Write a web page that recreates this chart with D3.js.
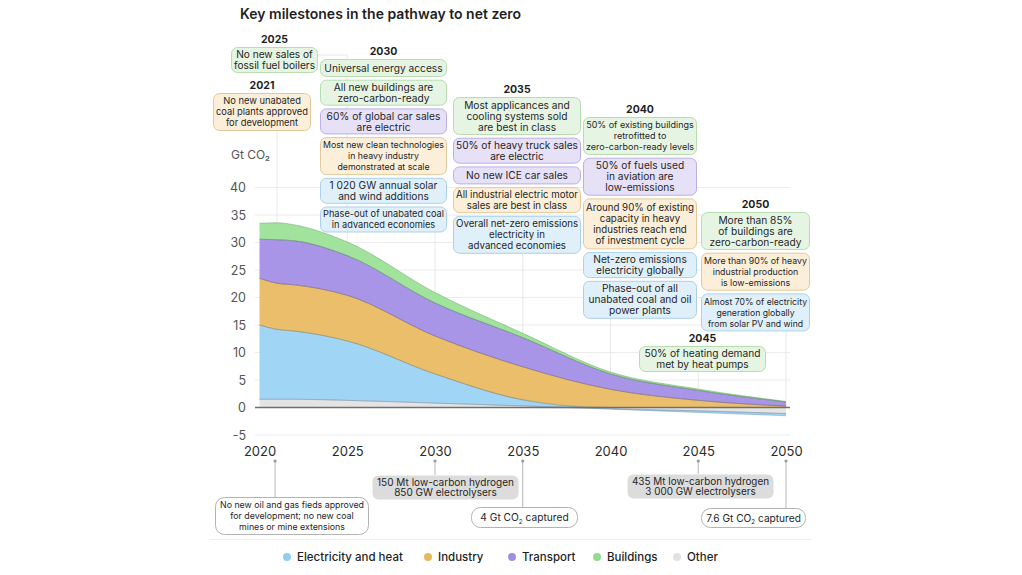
<!DOCTYPE html>
<html><head><meta charset="utf-8">
<script src="https://cdn.jsdelivr.net/npm/d3@7"></script>
<style>
html,body{margin:0;padding:0;background:#fff;}
svg{display:block;font-family:Inter,"Noto Sans",sans-serif;}
</style></head><body>
<svg id="chart" width="1022" height="575"></svg>
<script>
// ---------------- data ----------------
const years       = [2020, 2021, 2022, 2025, 2030, 2035, 2040, 2045, 2050];
const electricity = [13.5, 12.7, 12.4, 10.8, 5.3, 1.1, -0.1, -0.3, -0.4];
const industry    = [8.5, 8.4, 8.4, 8.3, 6.9, 6.0, 3.3, 1.3, 0.25];
const transport   = [7.1, 7.9, 8.0, 7.2, 6.0, 5.3, 2.8, 1.8, 0.75];
const buildings   = [2.9, 3.1, 2.9, 2.5, 1.9, 0.8, 0.35, 0.25, 0.1];
const other       = [1.5, 1.5, 1.5, 1.3, 0.8, 0.3, -0.2, -0.6, -1.1];

const seriesKeys   = ["other", "electricity", "industry", "transport", "buildings"];
const legendKeys   = ["electricity", "industry", "transport", "buildings", "other"];
const legendLabels = ["Electricity and heat", "Industry", "Transport", "Buildings", "Other"];

const yTickValues = [-5, 0, 5, 10, 15, 20, 25, 30, 35, 40];
const xTickValues = [2020, 2025, 2030, 2035, 2040, 2045, 2050];

const titleText = "Key milestones in the pathway to net zero";
const yAxisTitle = "Gt CO₂";

// milestones above the chart (sector decides colour)
const milestoneYears = [2021, 2025, 2030, 2035, 2040, 2045, 2050];
const milestoneSectors = [
  ["industry"],
  ["buildings"],
  ["buildings", "buildings", "transport", "industry", "electricity", "electricity"],
  ["buildings", "transport", "transport", "industry", "electricity"],
  ["buildings", "transport", "industry", "electricity", "electricity"],
  ["buildings"],
  ["buildings", "industry", "electricity"]
];
const milestoneTexts = [
  [["No new unabated", "coal plants approved", "for development"]],
  [["No new sales of", "fossil fuel boilers"]],
  [["Universal energy access"],
   ["All new buildings are", "zero-carbon-ready"],
   ["60% of global car sales", "are electric"],
   ["Most new clean technologies", "in heavy industry", "demonstrated at scale"],
   ["1 020 GW annual solar", "and wind additions"],
   ["Phase-out of unabated coal", "in advanced economies"]],
  [["Most applicances and", "cooling systems sold", "are best in class"],
   ["50% of heavy truck sales", "are electric"],
   ["No new ICE car sales"],
   ["All industrial electric motor", "sales are best in class"],
   ["Overall net-zero emissions", "electricity in", "advanced economies"]],
  [["50% of existing buildings", "retrofitted to", "zero-carbon-ready levels"],
   ["50% of fuels used", "in aviation are", "low-emissions"],
   ["Around 90% of existing", "capacity in heavy", "industries reach end", "of investment cycle"],
   ["Net-zero emissions", "electricity globally"],
   ["Phase-out of all", "unabated coal and oil", "power plants"]],
  [["50% of heating demand", "met by heat pumps"]],
  [["More than 85%", "of buildings are", "zero-carbon-ready"],
   ["More than 90% of heavy", "industrial production", "is low-emissions"],
   ["Almost 70% of electricity", "generation globally", "from solar PV and wind"]]
];

// milestones below the axis
const bottomYears = [2021, 2030, 2035, 2045, 2050];
const bottomKinds = ["policy", "hydrogen", "ccus", "hydrogen", "ccus"];
const bottomTexts = [
  ["No new oil and gas fieds approved", "for development; no new coal", "mines or mine extensions"],
  ["150 Mt low-carbon hydrogen", "850 GW electrolysers"],
  ["4 Gt CO₂ captured"],
  ["435 Mt low-carbon hydrogen", "3 000 GW electrolysers"],
  ["7.6 Gt CO₂ captured"]
];

// ---------------- styles & layout ----------------
const areaFill   = {electricity:"#a0d5f6", industry:"#ebbe6c", transport:"#a995e7", buildings:"#a1e39c", other:"#e4e4e4"};
const areaStroke = {electricity:"#6e96b0", industry:"#9a7d45", transport:"#66599c", buildings:"#5f9a5b", other:"#9a9a9a"};
const dotFill    = {electricity:"#8fcdf3", industry:"#e8b85f", transport:"#a18ee3", buildings:"#91dc8d", other:"#e2e2e2"};
const boxFill    = {buildings:"#e6f5e3", industry:"#fbefda", transport:"#e7e1f8", electricity:"#e0f0fb"};
const boxStroke  = {buildings:"#b6dcb0", industry:"#e3c999", transport:"#bbafe4", electricity:"#abd1ea"};

// column layout: left x, width, top of first box
const columnLayout = {
  2021: {x:213, w:98,  top:93},
  2025: {x:231, w:87,  top:47},
  2030: {x:320, w:127, top:59},
  2035: {x:453, w:128, top:97},
  2040: {x:583, w:114, top:117},
  2045: {x:639, w:127, top:346},
  2050: {x:701, w:109, top:212}
};
const bottomLayout = [
  {x:215, w:154, top:497, h:38},
  {x:372, w:147, top:475, h:25},
  {x:471, w:107, top:507, h:21},
  {x:627, w:147, top:474, h:25},
  {x:701, w:105, top:508, h:20}
];
const boxHeights = [0, 18, 26, 38, 51];
const boxGap = 2.7;

const svg = d3.select("#chart");

const x = d3.scaleLinear().domain([2020, 2050]).range([259.5, 786]);
const y = d3.scaleLinear().domain([0, 40]).range([407.5, 187.5]);
const gridX0 = 255, gridX1 = 790;

// ---------------- title ----------------
svg.append("text").attr("x", 240).attr("y", 19)
  .attr("font-size", 14).attr("font-weight", 600).attr("fill", "#1f1f1f")
  .text(titleText);

// ---------------- gridlines & y axis ----------------
const gridG = svg.append("g");
gridG.selectAll("line.h").data(yTickValues.filter(v => v !== 0)).join("line")
  .attr("x1", gridX0).attr("x2", gridX1)
  .attr("y1", d => y(d)).attr("y2", d => y(d))
  .attr("stroke", "#ececec").attr("stroke-width", 1);

function colBottom(yr) {
  const i = milestoneYears.indexOf(yr);
  const L = columnLayout[yr];
  let t = L.top;
  milestoneTexts[i].forEach(lines => { t += boxHeights[lines.length] + boxGap; });
  return t - boxGap;
}
milestoneYears.forEach(yr => {
  const xx = x(yr);
  if (yr === 2025) {
    const L = columnLayout[yr];
    gridG.append("path")
      .attr("d", `M${L.x + L.w},55H${xx}V${y(0)}`)
      .attr("fill", "none").attr("stroke", "#e8e8e8");
  } else {
    gridG.append("line").attr("x1", xx).attr("x2", xx)
      .attr("y1", colBottom(yr)).attr("y2", y(0))
      .attr("stroke", "#e8e8e8");
  }
});

const yAxis = d3.axisLeft(y).tickValues(yTickValues).tickSize(0).tickPadding(0).tickFormat(d => String(d));
const yAxisG = svg.append("g").attr("transform", `translate(246,0)`).call(yAxis);
yAxisG.select(".domain").remove();
yAxisG.selectAll("text").attr("font-size", 12.5).attr("fill", "#555").attr("font-family", "Inter,sans-serif");

svg.append("text").attr("x", 231).attr("y", 159)
  .attr("font-size", 12).attr("fill", "#555")
  .text(yAxisTitle);

// ---------------- stacked areas ----------------
const table = years.map((yr, i) => ({
  year: yr, electricity: electricity[i], industry: industry[i],
  transport: transport[i], buildings: buildings[i], other: other[i]
}));
const stack = d3.stack().keys(seriesKeys).order(d3.stackOrderNone).offset(d3.stackOffsetDiverging);
const stacked = stack(table);

const area = d3.area().curve(d3.curveMonotoneX)
  .x(d => x(d.data.year)).y0(d => y(d[0])).y1(d => y(d[1]));
const topLine = d3.line().curve(d3.curveMonotoneX)
  .x(d => x(d.data.year)).y(d => y(d[1]));
const botLine = d3.line().curve(d3.curveMonotoneX)
  .x(d => x(d.data.year)).y(d => y(d[0]));

const areaG = svg.append("g");
areaG.selectAll("path.area").data(stacked).join("path")
  .attr("class", "area")
  .attr("d", area)
  .attr("fill", s => areaFill[s.key]);
areaG.selectAll("path.edge").data(stacked).join("path")
  .attr("class", "edge")
  .attr("d", s => topLine(s) + botLine(s))
  .attr("fill", "none")
  .attr("stroke", s => areaStroke[s.key])
  .attr("stroke-width", 0.6)
  .attr("stroke-opacity", 0.75);

// zero line
svg.append("line").attr("x1", gridX0).attr("x2", gridX1)
  .attr("y1", y(0)).attr("y2", y(0))
  .attr("stroke", "#6f6f6f").attr("stroke-width", 1.3);

// ---------------- x axis ----------------
const xAxis = d3.axisBottom(x).tickValues(xTickValues).tickSize(0).tickPadding(0).tickFormat(d => String(d));
const xAxisG = svg.append("g").attr("transform", `translate(0,447)`).call(xAxis);
xAxisG.select(".domain").remove();
xAxisG.selectAll("text").attr("font-size", 13).attr("fill", "#2b2b2b").attr("font-family", "Inter,sans-serif");

// ---------------- boxes helper ----------------
const measurer = svg.append("text").attr("visibility", "hidden");
function fitSize(lines, base, maxW, weight) {
  measurer.attr("font-size", base).attr("font-weight", weight || 400);
  let m = 0;
  lines.forEach(l => { measurer.text(l); m = Math.max(m, measurer.node().getComputedTextLength()); });
  return m > maxW ? base * maxW / m : base;
}
function addText(g, cx, cy, lines, fs, lh, color) {
  const t = g.append("text").attr("text-anchor", "middle").attr("font-size", fs).attr("fill", color);
  lines.forEach((ln, i) => {
    const ty = cy + (i - (lines.length - 1) / 2) * lh + fs * 0.36;
    const ts = t.append("tspan").attr("x", cx).attr("y", ty);
    if (ln.includes("₂")) {
      const parts = ln.split("₂");
      ts.append("tspan").text(parts[0]);
      ts.append("tspan").attr("font-size", fs * 0.62).attr("dy", fs * 0.28).text("2");
      ts.append("tspan").attr("dy", -fs * 0.28).text(parts[1]);
    } else {
      ts.text(ln);
    }
  });
  return t;
}

// ---------------- milestone boxes above ----------------
const boxG = svg.append("g");
milestoneYears.forEach((yr, ci) => {
  const L = columnLayout[yr];
  boxG.append("text").attr("x", L.x + L.w / 2).attr("y", L.top - 4)
    .attr("text-anchor", "middle").attr("font-size", 10.5).attr("font-weight", 700)
    .attr("fill", "#1f1f1f").text(yr);
  let top = L.top;
  milestoneTexts[ci].forEach((lines, bi) => {
    const sec = milestoneSectors[ci][bi];
    const h = boxHeights[lines.length];
    boxG.append("rect").attr("x", L.x + 0.5).attr("y", top + 0.5)
      .attr("width", L.w - 1).attr("height", h - 1).attr("rx", 6)
      .attr("fill", boxFill[sec]).attr("stroke", boxStroke[sec]).attr("stroke-width", 1);
    const fs = fitSize(lines, 10.2, L.w - 6);
    addText(boxG, L.x + L.w / 2, top + h / 2, lines, fs, 11, "#262626");
    top += h + boxGap;
  });
});

// ---------------- milestones below axis ----------------
const botG = svg.append("g");
bottomYears.forEach((yr, i) => {
  const L = bottomLayout[i];
  const xx = x(yr) + (yr === 2021 ? -2 : 0);
  botG.append("line").attr("x1", xx).attr("x2", xx).attr("y1", 461).attr("y2", L.top)
    .attr("stroke", "#b5b5b5").attr("stroke-width", 1);
  botG.append("circle").attr("cx", xx).attr("cy", 461).attr("r", 1.6).attr("fill", "#9a9a9a");
  const kind = bottomKinds[i];
  botG.append("rect").attr("x", L.x + 0.5).attr("y", L.top + 0.5)
    .attr("width", L.w - 1).attr("height", L.h - 1).attr("rx", kind === "hydrogen" ? 6 : 9)
    .attr("fill", kind === "hydrogen" ? "#dcdcdc" : "#ffffff")
    .attr("stroke", kind === "hydrogen" ? "none" : "#b3b3b3").attr("stroke-width", 1);
  const lines = bottomTexts[i];
  const fs = fitSize(lines, kind === "policy" ? 9.6 : 10.2, L.w - 10);
  addText(botG, L.x + L.w / 2, L.top + L.h / 2, lines, fs, kind === "policy" ? 11 : 10.5, "#262626");
});

// ---------------- legend ----------------
svg.append("line").attr("x1", 210).attr("x2", 812).attr("y1", 539.5).attr("y2", 539.5)
  .attr("stroke", "#efefef");
const legendX = [287, 428, 512, 597, 677];
const legG = svg.append("g");
legendKeys.forEach((k, i) => {
  legG.append("circle").attr("cx", legendX[i]).attr("cy", 557).attr("r", 4).attr("fill", dotFill[k]);
  legG.append("text").attr("x", legendX[i] + 10).attr("y", 561)
    .attr("font-size", 11.5).attr("font-weight", 500).attr("fill", "#1f1f1f")
    .text(legendLabels[i]);
});
measurer.remove();
</script>
</body></html>
